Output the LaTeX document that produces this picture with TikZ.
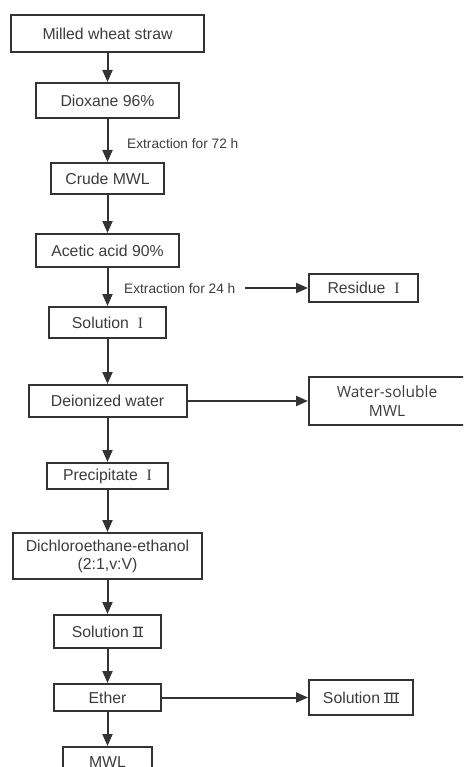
\documentclass[tikz,border=0pt]{standalone}
\usepackage{fontspec}
\setmainfont{Liberation Sans}
\newfontfamily\numfont{Liberation Serif}
\newfontfamily\opensans{Open Sans}
\usetikzlibrary{arrows.meta}
\definecolor{ink}{HTML}{333333}
\definecolor{txt}{HTML}{3C3C3C}
\newcommand{\rnum}[1]{{\numfont\setbox0\hbox{#1}\leavevmode\rlap{\rule{\wd0}{0.9pt}}\rlap{\raisebox{\dimexpr\ht0-0.9pt\relax}{\rule{\wd0}{0.9pt}}}\box0}}
\newcommand{\rI}{{\numfont I}}
\newcommand{\rII}{\rnum{I\kern-0.6ptI}}
\newcommand{\rIII}{\rnum{I\kern-0.6ptI\kern-0.6ptI}}
\begin{document}
\begin{tikzpicture}[x=1pt,y=-1pt,
  box/.style={draw=ink,line width=2pt,inner sep=0pt,text=txt,align=center,
    font=\fontsize{15.8}{18}\selectfont},
  lbl/.style={inner sep=0pt,anchor=west,text=txt,font=\fontsize{13.7}{16}\selectfont},
  arr/.style={draw=ink,line width=2pt,-{Triangle[length=12pt,width=10pt]}}]
\useasboundingbox (0,0) rectangle (463,767);
\clip (0,0) rectangle (463,767);
\node[box,minimum width=193pt,minimum height=37pt] (n1) at (107.5,33.5) {Milled wheat straw};
\node[box,minimum width=143pt,minimum height=35pt] (n2) at (107.5,100.5) {Dioxane 96\%};
\node[box,minimum width=113pt,minimum height=31pt] (n3) at (107.5,178.5) {Crude MWL};
\node[box,minimum width=143pt,minimum height=33pt] (n4) at (107.5,250.5) {Acetic acid 90\%};
\node[box,minimum width=117pt,minimum height=31pt] (n5) at (107.5,322.5) {Solution\ \ \rI};
\node[box,minimum width=109pt,minimum height=28pt] (r1) at (363.5,288) {Residue\ \ \rI};
\node[box,minimum width=158pt,minimum height=32pt] (n6) at (107.5,401) {Deionized water};
\node[box,minimum width=156pt,minimum height=48pt,font=\opensans\fontsize{15.5}{19}\selectfont] (ws) at (387,401) {Water-soluble\\MWL};
\node[box,minimum width=121pt,minimum height=26pt] (n7) at (107.5,476) {Precipitate\ \ \rI};
\node[box,minimum width=189pt,minimum height=46pt] (n8) at (107.5,556) {Dichloroethane-ethanol\\(2:1,v:V)};
\node[box,minimum width=107pt,minimum height=33pt] (n9) at (107.5,631.5) {Solution \rII};
\node[box,minimum width=107pt,minimum height=27pt] (n10) at (107.5,697.5) {Ether};
\node[box,minimum width=104pt,minimum height=35pt] (s3) at (361,697.5) {Solution \rIII};
\node[box,minimum width=89pt,minimum height=30pt] (n11) at (107.5,762) {MWL};
\node[lbl] (l1) at (127,144) {Extraction for 72 h};
\node[lbl] (l2) at (124,289) {Extraction for 24 h};
\coordinate (c24) at (245,288);
\draw[arr] (n1) -- (n2);
\draw[arr] (n2) -- (n3);
\draw[arr] (n3) -- (n4);
\draw[arr] (n4) -- (n5);
\draw[arr] (c24) -- (r1.west);
\draw[arr] (n5) -- (n6);
\draw[arr] (n6) -- (ws);
\draw[arr] (n6) -- (n7);
\draw[arr] (n7) -- (n8);
\draw[arr] (n8) -- (n9);
\draw[arr] (n9) -- (n10);
\draw[arr] (n10) -- (s3);
\draw[arr] (n10) -- (n11);
\end{tikzpicture}
\end{document}
